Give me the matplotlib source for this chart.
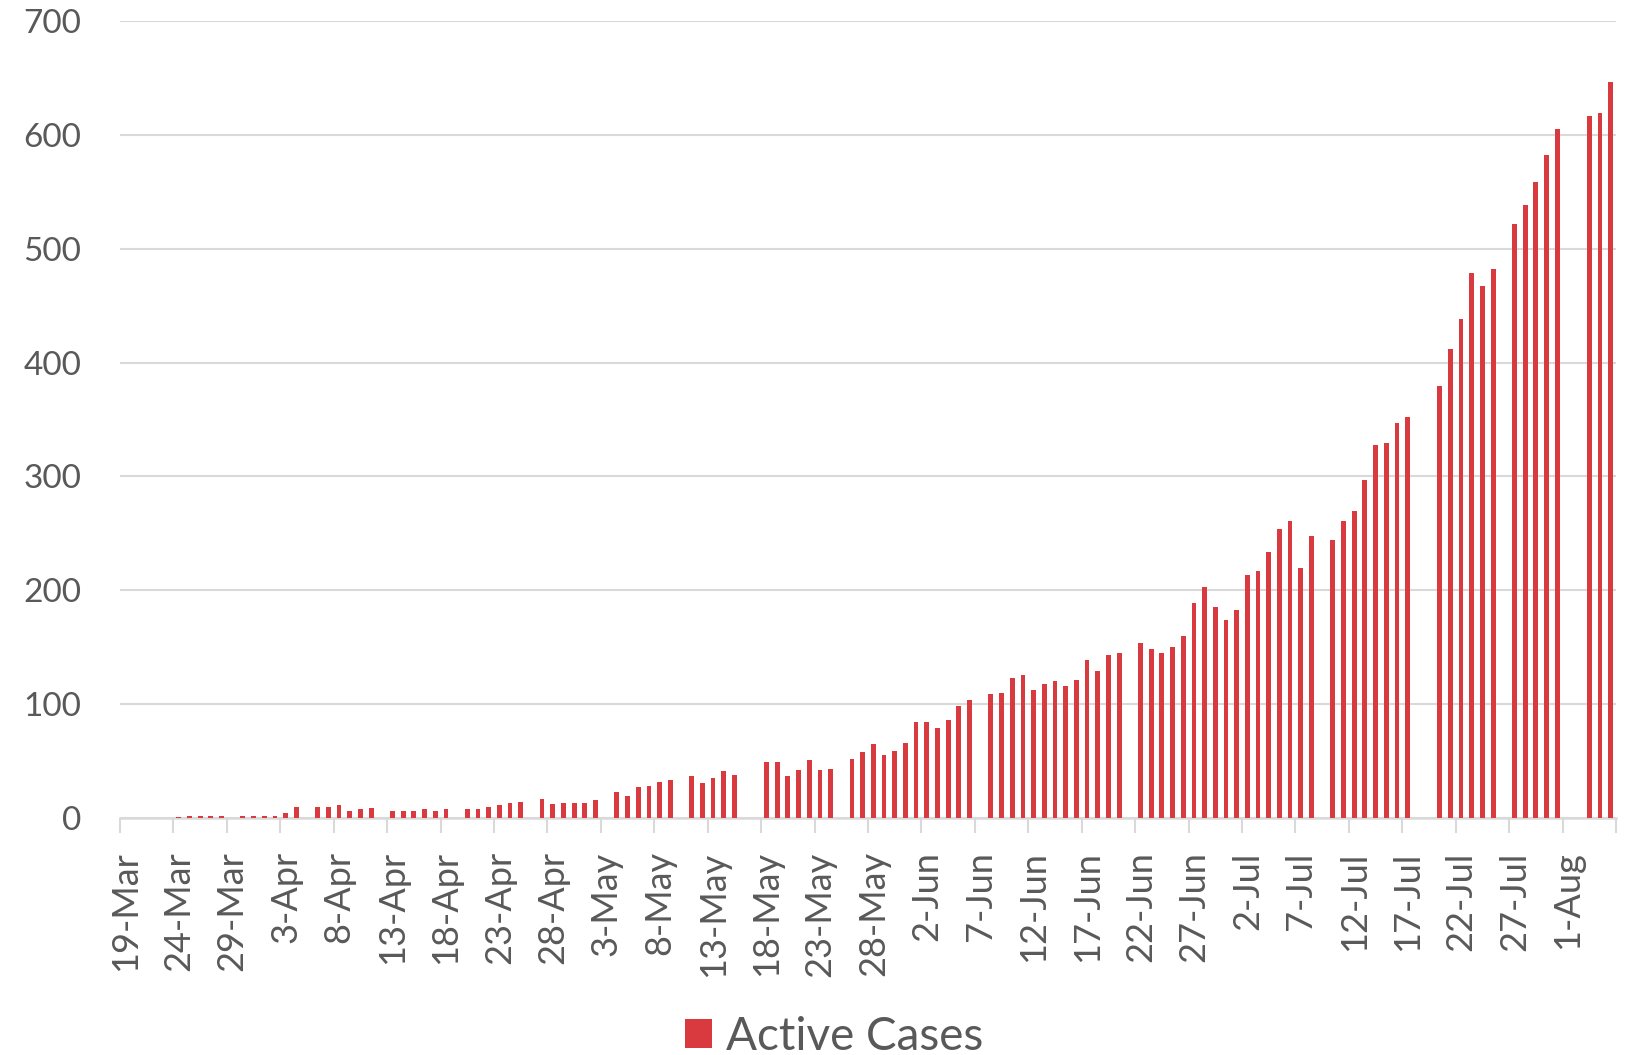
import numpy as np
import pandas as pd
import matplotlib
matplotlib.use('Agg')
import matplotlib.pyplot as plt

# 每日数据 19-Mar .. 5-Aug (0 = no bar that day)
days = pd.date_range('2020-03-19', '2020-08-05')
active = [
    0, 0, 0, 0, 0, 1, 2, 2, 2, 2,
    0, 2, 2, 2, 2, 4, 10, 0, 10, 10,
    11, 6, 8, 9, 0, 6, 6, 6, 8, 6,
    8, 0, 8, 8, 10, 11, 13, 14, 0, 17,
    12, 13, 13, 13, 16, 0, 23, 19, 27, 28,
    32, 33, 0, 37, 31, 35, 41, 38, 0, 0,
    49, 49, 37, 42, 51, 42, 43, 0, 52, 58,
    65, 55, 59, 66, 84, 84, 79, 86, 98, 104,
    0, 109, 110, 123, 126, 112, 118, 120, 116, 121,
    139, 129, 143, 145, 0, 154, 148, 145, 150, 160,
    189, 203, 185, 174, 183, 213, 217, 234, 254, 261,
    220, 248, 0, 244, 261, 270, 297, 328, 329, 347,
    352, 0, 0, 379, 412, 438, 479, 467, 482, 0,
    522, 538, 559, 582, 605, 0, 0, 617, 619, 646,
]
tick_labels = [
    '19-Mar', '24-Mar', '29-Mar', '3-Apr', '8-Apr', '13-Apr', '18-Apr',
    '23-Apr', '28-Apr', '3-May', '8-May', '13-May', '18-May', '23-May',
    '28-May', '2-Jun', '7-Jun', '12-Jun', '17-Jun', '22-Jun', '27-Jun',
    '2-Jul', '7-Jul', '12-Jul', '17-Jul', '22-Jul', '27-Jul', '1-Aug',
]
y_ticks = [0, 100, 200, 300, 400, 500, 600, 700]

plt.rcParams['font.family'] = ['Lato', 'DejaVu Sans']
grey = '#595959'
grid = '#D9D9D9'

fig = plt.figure(figsize=(16.32, 10.55), dpi=100)
ax = fig.add_axes([120 / 1632, 1 - 818 / 1055, 1496 / 1632, 797 / 1055])

x = np.arange(len(days))
ax.bar(x, active, width=0.45, color='#D83A40', zorder=3, label='Active Cases')

ax.set_xlim(-0.5, len(days) - 0.5)
ax.set_ylim(0, 700)
ax.set_yticks(y_ticks)
ax.yaxis.grid(True, color=grid, linewidth=1.5, zorder=0)
ax.set_axisbelow(True)
ax.tick_params(axis='y', length=0, pad=28, labelsize=24, labelcolor=grey)

for s in ['left', 'right', 'top']:
    ax.spines[s].set_visible(False)
ax.spines['bottom'].set_color(grid)
ax.spines['bottom'].set_linewidth(1.8)

# tick marks between categories, labels on the category
ax.set_xticks(np.arange(-0.5, len(days), 5))
ax.set_xticklabels([])
ax.tick_params(axis='x', which='major', length=11, width=1.5, color=grid)
ax.set_xticks(np.arange(0, len(days), 5), minor=True)
ax.set_xticklabels(tick_labels, minor=True, rotation=90)
ax.tick_params(axis='x', which='minor', length=0, pad=24, labelsize=26, labelcolor=grey)

fig.legend(loc='center', bbox_to_anchor=(0.511, 0.017), frameon=False, fontsize=33,
           handlelength=0.6, handleheight=0.6, handletextpad=0.3, labelcolor=grey)

fig.savefig('out.png', dpi=100)
